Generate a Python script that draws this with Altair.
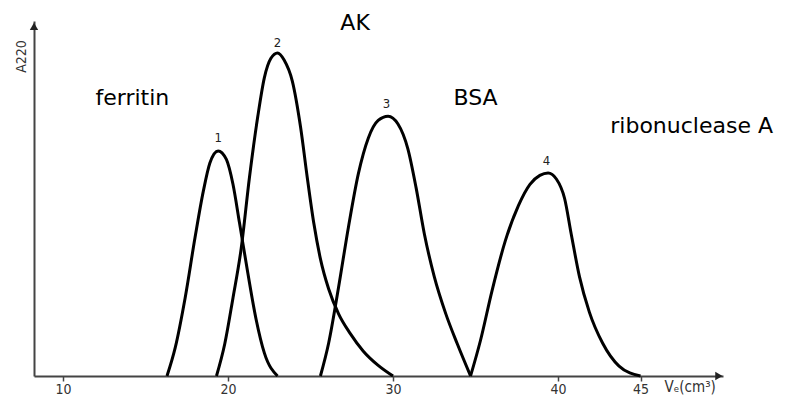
import altair as alt
import pandas as pd

# ---- data (elution volume in cm3, absorbance in relative units) ----
ferritin_x = [16.3, 16.8, 17.4, 18.0, 18.5, 18.9, 19.4, 19.9, 20.3, 20.7, 21.2, 21.7, 22.2, 23.0]
ferritin_y = [0.0, 0.08, 0.22, 0.39, 0.52, 0.60, 0.634, 0.61, 0.54, 0.43, 0.29, 0.16, 0.065, 0.0]

ak_x = [19.3, 19.8, 20.3, 20.8, 21.3, 21.8, 22.2, 22.6, 23.0, 23.4, 23.9, 24.4, 24.8, 25.2, 25.6,
        26.1, 26.7, 27.4, 28.2, 29.1, 30.0]
ak_y = [0.0, 0.09, 0.22, 0.36, 0.56, 0.73, 0.84, 0.895, 0.91, 0.89, 0.83, 0.70, 0.56, 0.43, 0.33,
        0.245, 0.175, 0.12, 0.07, 0.03, 0.0]

bsa_x = [25.6, 26.1, 26.7, 27.3, 27.9, 28.5, 29.1, 29.7, 30.3, 30.9, 31.4, 31.9, 32.5, 33.2, 33.9, 34.7]
bsa_y = [0.0, 0.093, 0.25, 0.42, 0.57, 0.67, 0.72, 0.732, 0.71, 0.64, 0.53, 0.40, 0.28, 0.175, 0.09, 0.0]

rnase_x = [34.7, 35.3, 36.0, 36.8, 37.6, 38.3, 38.9, 39.4, 39.9, 40.4, 40.8, 41.3, 41.9, 42.7, 43.7, 45.0]
rnase_y = [0.0, 0.10, 0.24, 0.38, 0.48, 0.54, 0.565, 0.572, 0.555, 0.50, 0.40, 0.28, 0.18, 0.093, 0.028, 0.0]

peak_labels = ["1", "2", "3", "4"]
peak_label_x = [19.4, 23.0, 29.6, 39.3]
peak_label_y = [0.67, 0.938, 0.766, 0.606]

protein_names = ["ferritin", "AK", "BSA", "ribonuclease A"]
protein_name_x = [14.2, 27.7, 35.0, 48.1]
protein_name_y = [0.783, 0.994, 0.783, 0.704]

x_ticks = [10, 20, 30, 40, 45]
x_min, x_max = 8.24, 50.0

# ---- tables ----
rows = []
for name, xs, ys in [("ferritin", ferritin_x, ferritin_y), ("AK", ak_x, ak_y),
                     ("BSA", bsa_x, bsa_y), ("ribonuclease A", rnase_x, rnase_y)]:
    for i, (xv, yv) in enumerate(zip(xs, ys)):
        rows.append({"protein": name, "ve": xv, "a": yv, "i": i})
curves = pd.DataFrame(rows)

peaks = pd.DataFrame({"label": peak_labels, "ve": peak_label_x, "a": peak_label_y})
names = pd.DataFrame({"label": protein_names, "ve": protein_name_x, "a": protein_name_y})
ylab = pd.DataFrame({"label": ["A220"], "ve": [7.5], "a": [0.90]})
arrows = pd.DataFrame({"ve": [x_max - 0.25, x_min], "a": [0.0, 0.985],
                       "shape": ["triangle-right", "triangle-up"]})

xscale = alt.Scale(domain=[x_min, x_max], nice=False, zero=False)
yscale = alt.Scale(domain=[0, 1], nice=False, zero=True)

base = alt.Chart(curves)

lines = base.mark_line(color="black", strokeWidth=3, interpolate="monotone").encode(
    x=alt.X("ve:Q", scale=xscale,
            axis=alt.Axis(values=x_ticks, grid=False, domainColor="#444", domainWidth=2,
                          tickColor="#444", tickWidth=1.5, tickSize=5, labelPadding=1,
                          labelFont="DejaVu Sans Condensed", labelFontSize=14, labelColor="#333",
                          title="Vₑ(cm³)", titleFont="DejaVu Sans Condensed", titleFontSize=15,
                          titleFontWeight="normal", titleColor="#333",
                          titleAnchor="start", titleAlign="left", titleX=630, titleY=3,
                          titleBaseline="top")),
    y=alt.Y("a:Q", scale=yscale,
            axis=alt.Axis(grid=False, ticks=False, labels=False, title=None,
                          domainColor="#444", domainWidth=2)),
    detail="protein:N",
    order="i:Q",
)

peak_text = alt.Chart(peaks).mark_text(font="DejaVu Sans Condensed", fontSize=13, color="#222",
                                       baseline="middle").encode(
    x=alt.X("ve:Q", scale=xscale), y=alt.Y("a:Q", scale=yscale), text="label:N")

name_text = alt.Chart(names).mark_text(font="DejaVu Sans", fontSize=22, color="black",
                                       baseline="middle").encode(
    x=alt.X("ve:Q", scale=xscale), y=alt.Y("a:Q", scale=yscale), text="label:N")

ylab_text = alt.Chart(ylab).mark_text(font="DejaVu Sans Condensed", fontSize=14, color="#333",
                                      angle=270, baseline="middle").encode(
    x=alt.X("ve:Q", scale=xscale), y=alt.Y("a:Q", scale=yscale), text="label:N")

arrow_marks = alt.Chart(arrows).mark_point(filled=True, color="#222", size=70, opacity=1).encode(
    x=alt.X("ve:Q", scale=xscale), y=alt.Y("a:Q", scale=yscale),
    shape=alt.Shape("shape:N", scale=None))

chart = alt.layer(lines, peak_text, name_text, ylab_text, arrow_marks).properties(
    width=689, height=355,
    autosize=alt.AutoSizeParams(type="none"),
    padding={"left": 26, "top": 13, "right": 54, "bottom": 22},
    background="white",
).configure_view(stroke=None)

chart.save("out.html", embed_options={"renderer": "svg", "actions": False})
